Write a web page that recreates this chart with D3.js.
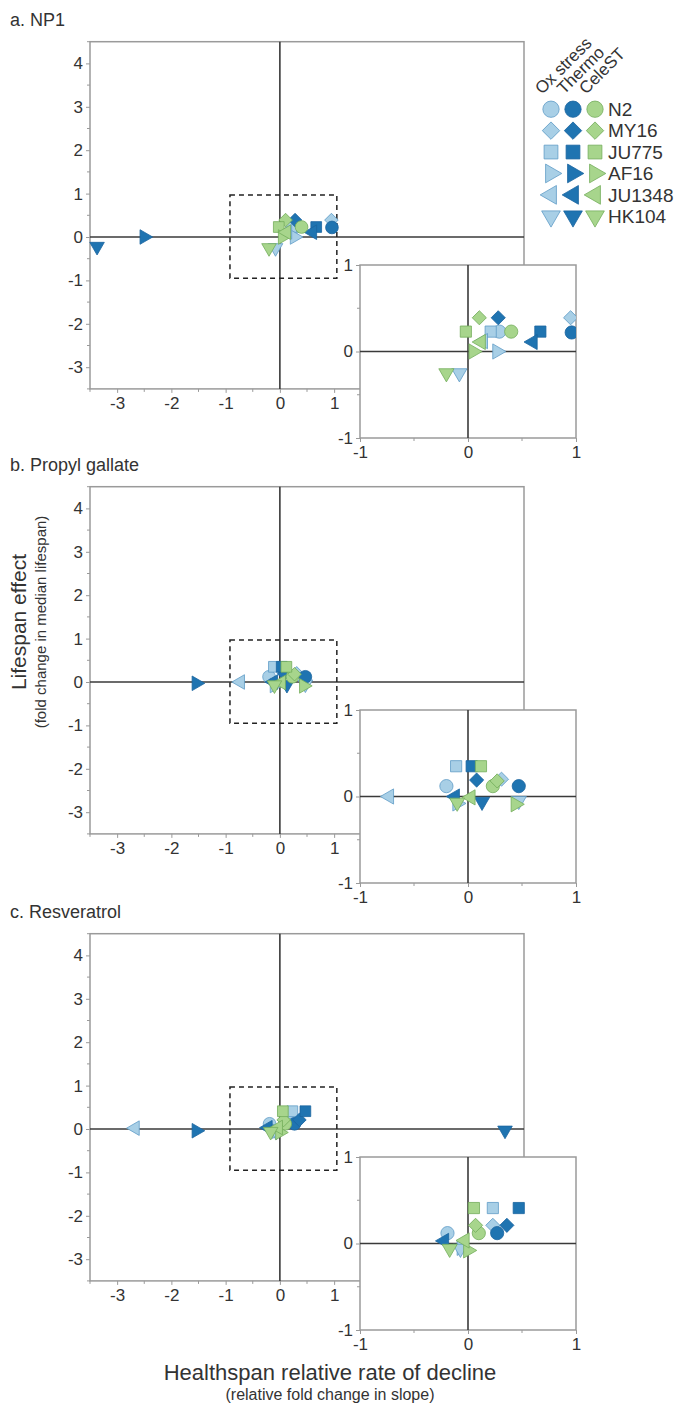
<!DOCTYPE html>
<html><head><meta charset="utf-8">
<script src="https://cdn.jsdelivr.net/npm/d3@7"></script>
<style>html,body{margin:0;padding:0;background:#fff}svg{display:block;font-family:"Liberation Sans",Arial,sans-serif}</style>
</head><body>
<script>
// ---------------- DATA ----------------
const strains = ["N2","MY16","JU775","AF16","JU1348","HK104"];
const assays = ["Ox stress","Thermo","CeleST"];
const panelTitles = ["a. NP1","b. Propyl gallate","c. Resveratrol"];
const mainTicks = [-3,-2,-1,0,1,2,3,4];
const insetTicks = [-1,0,1];

// x = healthspan relative rate of decline, y = lifespan effect ; strain order as above
const np1OxX     = [0.29, 0.95, 0.21, 0.27, 0.14, -0.08];
const np1OxY     = [0.23, 0.39, 0.23, 0.00, 0.12, -0.25];
const np1ThermoX = [0.96, 0.28, 0.67, -2.50, 0.60, -3.37];
const np1ThermoY = [0.22, 0.39, 0.23, 0.00, 0.11, -0.22];
const np1CeleX   = [0.40, 0.105, -0.02, 0.05, 0.12, -0.20];
const np1CeleY   = [0.23, 0.39, 0.23, 0.00, 0.11, -0.25];

const pgOxX      = [-0.20, 0.31, -0.11, -0.10, -0.73, 0.47];
const pgOxY      = [0.12, 0.20, 0.35, -0.08, 0.00, -0.05];
const pgThermoX  = [0.47, 0.08, 0.034, -1.54, -0.12, 0.13];
const pgThermoY  = [0.12, 0.19, 0.35, -0.03, 0.00, -0.06];
const pgCeleX    = [0.23, 0.27, 0.12, 0.44, 0.025, -0.10];
const pgCeleY    = [0.12, 0.18, 0.35, -0.09, -0.01, -0.07];

const resOxX     = [-0.19, 0.23, 0.23, -0.06, -2.67, -0.07];
const resOxY     = [0.12, 0.21, 0.41, -0.05, 0.02, -0.06];
const resThermoX = [0.27, 0.36, 0.47, -1.54, -0.22, 4.15];
const resThermoY = [0.12, 0.21, 0.41, -0.04, 0.03, -0.03];
const resCeleX   = [0.10, 0.07, 0.055, 0.00, -0.03, -0.17];
const resCeleY   = [0.12, 0.21, 0.41, -0.08, 0.035, -0.06];

// ---------------- STYLE ----------------
const W = 682, H = 1411;
const fills   = ["#a8cfe6", "#1f74b1", "#a7d58c"];
const strokes = ["#5f9cc6", "#1a64a0", "#74ad5c"];
const shapeDefs = [
  {type: d3.symbolCircle,   rot: 0,   size: 110},
  {type: d3.symbolSquare,   rot: 45,  size: 80},
  {type: d3.symbolSquare,   rot: 0,   size: 100},
  {type: d3.symbolTriangle, rot: 90,  size: 80},
  {type: d3.symbolTriangle, rot: -90, size: 80},
  {type: d3.symbolTriangle, rot: 180, size: 80}
];

const panelsData = [
  [[np1OxX,np1OxY],[np1ThermoX,np1ThermoY],[np1CeleX,np1CeleY]],
  [[pgOxX,pgOxY],[pgThermoX,pgThermoY],[pgCeleX,pgCeleY]],
  [[resOxX,resOxY],[resThermoX,resThermoY],[resCeleX,resCeleY]]
];
const zeroY = [237, 682, 1129];

const svg = d3.select("body").append("svg").attr("width", W).attr("height", H);
const fmt = d => String(d);

function pointsOf(pd){
  const pts = [];
  pd.forEach((a, ai) => {
    strains.forEach((s, si) => pts.push({assay: ai, strain: si, x: a[0][si], y: a[1][si]}));
  });
  return pts;
}

function drawSymbols(g, pts, xs, ys, scale){
  g.selectAll("path.sym").data(pts).join("path")
    .attr("class","sym")
    .attr("d", d => d3.symbol().type(shapeDefs[d.strain].type).size(shapeDefs[d.strain].size*scale)())
    .attr("transform", d => `translate(${xs(d.x)},${ys(d.y)}) rotate(${shapeDefs[d.strain].rot})`)
    .attr("fill", d => fills[d.assay])
    .attr("stroke", d => strokes[d.assay])
    .attr("stroke-width", 0.8);
}

const frameCol = "#9a9a9a", axisCol = "#3a3a3a", textCol = "#333";
const fontFam = '"Liberation Sans",Arial,sans-serif';

panelsData.forEach((pd, pi) => {
  const z = zeroY[pi];
  const xM = d3.scaleLinear().domain([-3.5, 4.5]).range([90, 524]);
  const yM = d3.scaleLinear().domain([-3.5, 4.5]).range([z + 3.5*43.4, z - 4.5*43.4]);
  const g = svg.append("g");
  const pts = pointsOf(pd);

  g.append("text").attr("x", 10).attr("y", yM(4.5) - 16)
    .attr("font-size", 18).attr("fill", textCol).text(panelTitles[pi]);

  g.append("rect").attr("x", xM(-3.5)).attr("y", yM(4.5))
    .attr("width", xM(4.5)-xM(-3.5)).attr("height", yM(-3.5)-yM(4.5))
    .attr("fill", "#fff").attr("stroke", frameCol).attr("stroke-width", 1.5);

  const yAxG = g.append("g").attr("transform", `translate(${xM(-3.5)},0)`)
    .call(d3.axisLeft(yM).tickValues(mainTicks).tickSize(4).tickPadding(3).tickFormat(fmt));
  const xAxG = g.append("g").attr("transform", `translate(0,${yM(-3.5)})`)
    .call(d3.axisBottom(xM).tickValues(mainTicks).tickSize(4).tickPadding(4).tickFormat(fmt));
  const minor = d3.range(-3.5, 4.51, 1);
  g.append("g").selectAll("line").data(minor).join("line")
    .attr("x1", xM(-3.5)-3).attr("x2", xM(-3.5)).attr("y1", d=>yM(d)).attr("y2", d=>yM(d))
    .attr("stroke", frameCol);
  g.append("g").selectAll("line").data(minor).join("line")
    .attr("y1", yM(-3.5)).attr("y2", yM(-3.5)+3).attr("x1", d=>xM(d)).attr("x2", d=>xM(d))
    .attr("stroke", frameCol);
  [yAxG, xAxG].forEach(a => {
    a.select(".domain").remove();
    a.selectAll("line").attr("stroke", frameCol);
    a.selectAll("text").attr("font-size", 17).attr("fill", textCol).attr("font-family", fontFam);
  });

  g.append("line").attr("x1", xM(-3.5)).attr("x2", xM(4.5)).attr("y1", yM(0)).attr("y2", yM(0))
    .attr("stroke", axisCol).attr("stroke-width", 1.6);
  g.append("line").attr("x1", xM(0)).attr("x2", xM(0)).attr("y1", yM(4.5)).attr("y2", yM(-3.5))
    .attr("stroke", axisCol).attr("stroke-width", 1.6);

  g.append("rect").attr("x", xM(-0.92)).attr("y", yM(0.97))
    .attr("width", xM(1.05)-xM(-0.92)).attr("height", yM(-0.95)-yM(0.97))
    .attr("fill","none").attr("stroke","#222").attr("stroke-width",1.5).attr("stroke-dasharray","5,4");

  drawSymbols(g.append("g"), pts, xM, yM, 1.15);

  // inset
  const xI = d3.scaleLinear().domain([-1, 1]).range([360, 576]);
  const yI = d3.scaleLinear().domain([-1, 1]).range([z + 28 + 173, z + 28]);
  const gi = svg.append("g");
  gi.append("rect").attr("x", xI(-1)).attr("y", yI(1)).attr("width", xI(1)-xI(-1)).attr("height", yI(-1)-yI(1))
    .attr("fill","#fff").attr("stroke", frameCol).attr("stroke-width", 1.5);
  const yAxI = gi.append("g").attr("transform", `translate(${xI(-1)},0)`)
    .call(d3.axisLeft(yI).tickValues(insetTicks).tickSize(4).tickPadding(3).tickFormat(fmt));
  const xAxI = gi.append("g").attr("transform", `translate(0,${yI(-1)})`)
    .call(d3.axisBottom(xI).tickValues(insetTicks).tickSize(4).tickPadding(4).tickFormat(fmt));
  [yAxI, xAxI].forEach(a => {
    a.select(".domain").remove();
    a.selectAll("line").attr("stroke", frameCol);
    a.selectAll("text").attr("font-size", 17).attr("fill", textCol).attr("font-family", fontFam);
  });
  const minI = [-0.5, 0.5];
  gi.append("g").selectAll("line").data(minI).join("line")
    .attr("x1", xI(-1)-3).attr("x2", xI(-1)).attr("y1", d=>yI(d)).attr("y2", d=>yI(d)).attr("stroke", frameCol);
  gi.append("g").selectAll("line").data(minI).join("line")
    .attr("y1", yI(-1)).attr("y2", yI(-1)+3).attr("x1", d=>xI(d)).attr("x2", d=>xI(d)).attr("stroke", frameCol);
  gi.append("line").attr("x1", xI(-1)).attr("x2", xI(1)).attr("y1", yI(0)).attr("y2", yI(0))
    .attr("stroke", axisCol).attr("stroke-width", 1.6);
  gi.append("line").attr("x1", xI(0)).attr("x2", xI(0)).attr("y1", yI(1)).attr("y2", yI(-1))
    .attr("stroke", axisCol).attr("stroke-width", 1.6);
  const cid = "clip" + pi;
  gi.append("clipPath").attr("id", cid).append("rect")
    .attr("x", xI(-1)).attr("y", yI(1)).attr("width", xI(1)-xI(-1)).attr("height", yI(-1)-yI(1));
  drawSymbols(gi.append("g").attr("clip-path", `url(#${cid})`),
    pts.filter(d => Math.abs(d.x) <= 1.1 && Math.abs(d.y) <= 1.1), xI, yI, 1.25);
});

// legend
const legX = d3.scaleBand().domain(assays).range([540, 606]);
const legY = d3.scaleBand().domain(strains).range([98.5, 227]);
const leg = svg.append("g");
assays.forEach(a => {
  leg.append("text")
    .attr("transform", `translate(${legX(a) + legX.bandwidth()/2 - 9},${95}) rotate(-45)`)
    .attr("font-size", 17).attr("fill", textCol).text(a);
});
const legPts = [];
strains.forEach((s, si) => assays.forEach((a, ai) => legPts.push({strain: si, assay: ai, s, a})));
leg.selectAll("path").data(legPts).join("path")
  .attr("d", d => d3.symbol().type(shapeDefs[d.strain].type).size(shapeDefs[d.strain].size*1.9)())
  .attr("transform", d => `translate(${legX(d.a)+legX.bandwidth()/2},${legY(d.s)+legY.bandwidth()/2}) rotate(${shapeDefs[d.strain].rot})`)
  .attr("fill", d => fills[d.assay]).attr("stroke", d => strokes[d.assay]).attr("stroke-width", 0.8);
leg.selectAll("text.lab").data(strains).join("text").attr("class","lab")
  .attr("x", 608).attr("y", d => legY(d)+legY.bandwidth()/2).attr("dy","0.36em")
  .attr("font-size", 19).attr("fill", textCol).text(d => d);

// axis titles
svg.append("text").attr("transform","translate(26,622) rotate(-90)").attr("text-anchor","middle")
  .attr("font-size", 21).attr("fill", textCol).text("Lifespan effect");
svg.append("text").attr("transform","translate(46,622) rotate(-90)").attr("text-anchor","middle")
  .attr("font-size", 15).attr("fill", textCol).text("(fold change in median lifespan)");
svg.append("text").attr("x", 330).attr("y", 1380).attr("text-anchor","middle")
  .attr("font-size", 22).attr("fill", textCol).text("Healthspan relative rate of decline");
svg.append("text").attr("x", 330).attr("y", 1400).attr("text-anchor","middle")
  .attr("font-size", 16).attr("fill", textCol).text("(relative fold change in slope)");
</script>
</body></html>
